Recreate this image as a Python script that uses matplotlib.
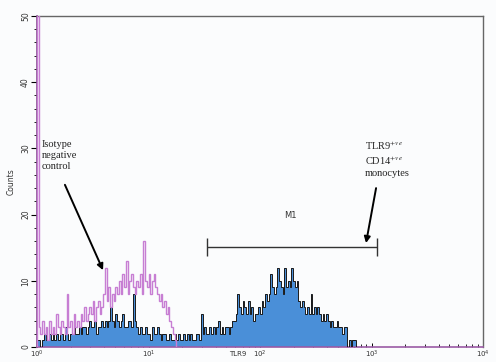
import numpy as np
import matplotlib
matplotlib.use("Agg")
import matplotlib.pyplot as plt
from matplotlib.ticker import MultipleLocator, LogLocator, NullFormatter

# histogram counts per channel (64 channels per decade, starting at 10^0)
isotype_counts = [
    60, 3, 2, 4,
    2, 3, 1, 4, 2, 3, 2, 5, 3, 2, 4, 3, 2,
    8,
    3, 4, 2, 5, 3, 4, 3, 5, 4, 6, 4, 5,
    6, 5, 7, 4, 6, 7, 5,
    6, 8, 12,
    7, 9, 6, 8, 7, 9, 8,
    10, 8, 11, 9, 13, 8, 10, 11, 9,
    8, 10, 9, 11, 8,
    16,
    10, 9, 11, 8, 10, 11, 9, 8,
    7, 8, 6, 7, 5, 6,
    4, 3, 2, 1,
]
tlr9_counts = [
    1,
    1, 0, 1, 2, 1, 1, 2, 1, 2, 1,
    2, 1, 2, 2, 1, 3, 2, 1, 2, 2,
    3, 2, 2, 3, 2, 3, 3, 2, 3, 4,
    3, 3, 4, 2, 3,
    3, 4, 3, 4, 3, 4,
    6,
    4, 3, 5, 4, 3,
    4, 5, 3,
    3, 4, 4, 3,
    8,
    4, 3, 2, 3, 2,
    2, 3, 2, 2, 1, 3, 2, 2, 3, 2, 1, 2, 2, 1,
    1, 2, 1, 1, 2, 1, 2, 1, 1, 2, 1, 2, 1, 2, 1, 1, 2, 2, 1,
    5,
    2, 3, 2,
    2, 3, 2, 3, 2, 3,
    4,
    2, 3, 2, 3, 3, 2,
    3, 4, 4, 5,
    8,
    6, 5, 7, 6,
    5, 7,
    5, 6, 4, 5,
    5, 6, 5,
    7, 6, 8, 7, 8,
    11,
    9, 8, 9,
    12, 10,
    9, 8,
    12, 9,
    10, 9,
    12,
    10, 9, 10,
    7, 6, 7, 6,
    5, 6, 5,
    8,
    5, 6, 5, 6,
    5, 4, 5, 4,
    5,
    4, 3, 4, 3,
    3, 4, 3, 3, 2, 3, 3,
    0,
    1, 0, 1, 1, 0,
    0, 0,
]
m1_gate = (33.5, 1120)
m1_level = 15.1

CH_PER_DECADE = 64


def channel_edges(n):
    return 10 ** (np.arange(n + 1) / CH_PER_DECADE)


plt.rcParams["mathtext.fontset"] = "stix"

fig = plt.figure(figsize=(4.96, 3.62), dpi=100)
fig.patch.set_facecolor("#fbfcfd")
ax = fig.add_axes([37 / 496, 1 - 347 / 362, 446 / 496, 331 / 362])
ax.set_facecolor("#fbfcfd")

# TLR9 stained sample: filled blue with black outline
e = channel_edges(len(tlr9_counts))
ax.stairs(tlr9_counts, e, fill=True, color="#4a8fd8", zorder=2)
ax.stairs(tlr9_counts, e, color="#1a1a1a", lw=0.7, zorder=3)

# isotype control: magenta line
e = channel_edges(len(isotype_counts))
ax.stairs(isotype_counts, e, color="#c77ed3", lw=1.0, zorder=4)

ax.set_xscale("log")
ax.set_xlim(1, 1e4)
ax.set_ylim(0, 50)

# M1 gate marker
ax.hlines(m1_level, m1_gate[0], m1_gate[1], color="#333333", lw=1.0)
ax.vlines(m1_gate, m1_level - 1.35, m1_level + 1.35, color="#333333", lw=1.0)
ax.text(186, 19.8, "M1", fontsize=6, ha="center", va="center", color="#333333")

serif = ["Liberation Serif", "DejaVu Serif"]
ax.text(1.108, 31.3, "Isotype\nnegative\ncontrol", fontsize=7.5, family=serif,
        va="top", ha="left", color="#222222", linespacing=1.3)
ax.annotate("", xy=(3.91, 11.6), xytext=(1.78, 24.5),
            arrowprops=dict(arrowstyle="-|>", color="black", lw=1.4,
                            mutation_scale=9, shrinkA=0, shrinkB=0))
ax.text(875, 31.3, "TLR9$^{+ve}$\nCD14$^{+ve}$\nmonocytes", fontsize=7.5,
        family=serif, va="top", ha="left", color="#222222", linespacing=1.3)
ax.annotate("", xy=(893, 15.7), xytext=(1099, 24.0),
            arrowprops=dict(arrowstyle="-|>", color="black", lw=1.4,
                            mutation_scale=9, shrinkA=0, shrinkB=0))

# axes styling
for s in ["top", "right"]:
    ax.spines[s].set_color("#666666")
    ax.spines[s].set_linewidth(1.0)
ax.spines["left"].set_color("#8a4f94")
ax.spines["bottom"].set_color("#9a5aa5")
ax.spines["left"].set_linewidth(1.2)
ax.spines["bottom"].set_linewidth(1.2)

ax.yaxis.set_major_locator(MultipleLocator(10))
ax.yaxis.set_minor_locator(MultipleLocator(2))
ax.tick_params(axis="y", which="major", direction="out", length=4, width=0.8,
               labelsize=5.5, labelcolor="#333333", pad=1, labelrotation=90)
ax.tick_params(axis="y", which="minor", direction="out", length=2.5, width=0.6)
for lab in ax.get_yticklabels():
    lab.set_va("center")

ax.xaxis.set_major_locator(LogLocator(base=10, numticks=10))
ax.xaxis.set_minor_locator(LogLocator(base=10, subs=np.arange(2, 10), numticks=20))
ax.xaxis.set_minor_formatter(NullFormatter())
ax.tick_params(axis="x", which="major", direction="in", length=3, width=0.7,
               labelsize=5, labelcolor="#333333", pad=1.5)
ax.tick_params(axis="x", which="minor", direction="in", length=2, width=0.6)

ax.set_ylabel("Counts", fontsize=5.5, color="#333333", labelpad=4)
ax.set_xlabel("TLR9", fontsize=5, color="#333333", va="top")
ax.xaxis.set_label_coords(0.45, -0.013)

fig.savefig("out.png", dpi=100, facecolor=fig.get_facecolor())
